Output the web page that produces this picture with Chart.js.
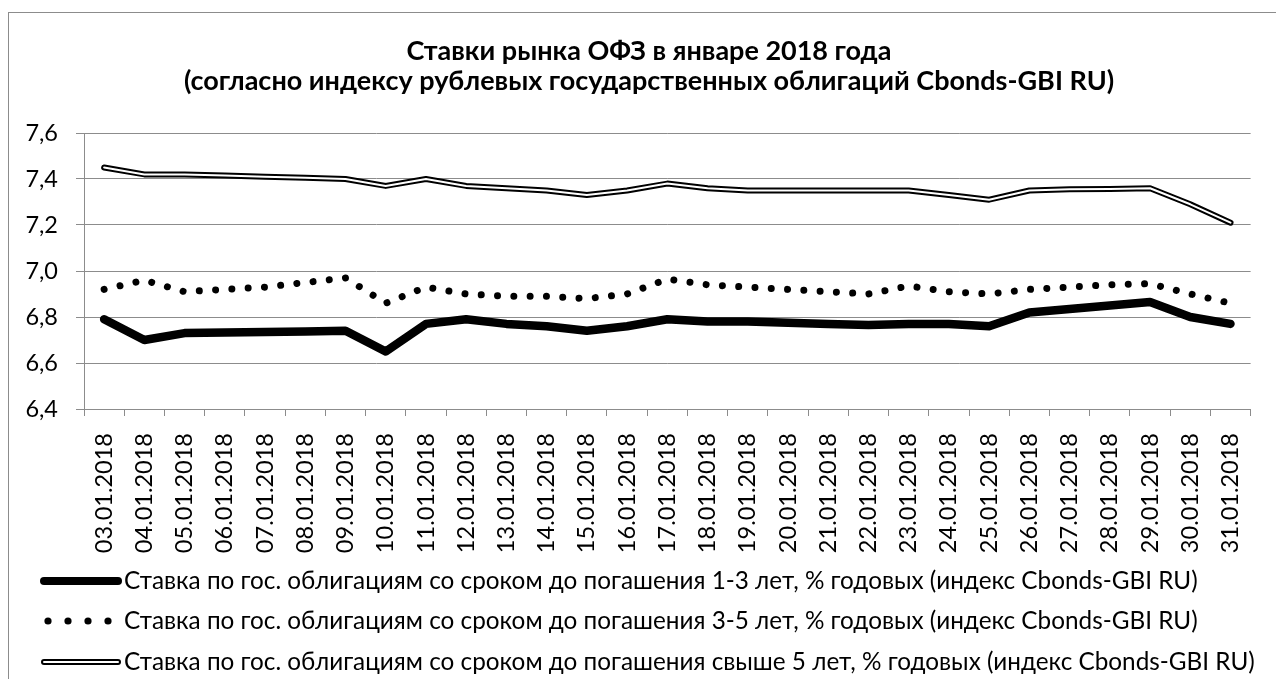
<!DOCTYPE html>
<html>
<head>
<meta charset="utf-8">
<script src="https://cdn.jsdelivr.net/npm/chart.js@4"></script>
<style>
  html, body { margin: 0; padding: 0; background: #fff; }
  #wrap { width: 1276px; height: 679px; position: relative; }
</style>
</head>
<body>
<div id="wrap"><canvas id="c" width="1276" height="679"></canvas></div>
<script>
const dates = ['03.01.2018','04.01.2018','05.01.2018','06.01.2018','07.01.2018','08.01.2018','09.01.2018','10.01.2018','11.01.2018','12.01.2018','13.01.2018','14.01.2018','15.01.2018','16.01.2018','17.01.2018','18.01.2018','19.01.2018','20.01.2018','21.01.2018','22.01.2018','23.01.2018','24.01.2018','25.01.2018','26.01.2018','27.01.2018','28.01.2018','29.01.2018','30.01.2018','31.01.2018'];
const rate1to3 = [6.79,6.70,6.73,6.733,6.735,6.737,6.74,6.65,6.77,6.79,6.77,6.76,6.74,6.76,6.79,6.78,6.78,6.775,6.77,6.765,6.77,6.77,6.76,6.82,6.835,6.85,6.865,6.80,6.77];
const rate3to5 = [6.92,6.96,6.91,6.92,6.93,6.95,6.97,6.86,6.93,6.90,6.89,6.89,6.88,6.90,6.965,6.94,6.93,6.92,6.91,6.90,6.935,6.91,6.90,6.92,6.93,6.94,6.945,6.90,6.86];
const rateOver5 = [7.45,7.42,7.42,7.415,7.41,7.405,7.40,7.37,7.40,7.37,7.36,7.35,7.33,7.35,7.38,7.36,7.35,7.35,7.35,7.35,7.35,7.33,7.31,7.35,7.355,7.357,7.36,7.29,7.21];
const seriesNames = [
  'Ставка по гос. облигациям со сроком до погашения 1-3 лет, % годовых (индекс Cbonds-GBI RU)',
  'Ставка по гос. облигациям со сроком до погашения 3-5 лет, % годовых (индекс Cbonds-GBI RU)',
  'Ставка по гос. облигациям со сроком до погашения свыше 5 лет, % годовых (индекс Cbonds-GBI RU)'
];
const titleLines = ['Ставки рынка ОФЗ в январе 2018 года', '(согласно индексу рублевых государственных облигаций Cbonds-GBI RU)'];
const yMin = 6.4, yMax = 7.6, yStep = 0.2;

const FONT = 'Lato, "Open Sans", sans-serif';
const GRID = '#8c8c8c';

const frame = {
  id: 'frame',
  afterLayout(chart) {
    if (chart.titleBlock) { chart.titleBlock.left = 39; chart.titleBlock.right = 1259; }
  },
  beforeDraw(chart) {
    const ctx = chart.ctx;
    ctx.save();
    ctx.fillStyle = '#fff';
    ctx.fillRect(0, 0, chart.width, chart.height);
    ctx.strokeStyle = '#8c8c8c';
    ctx.lineWidth = 1;
    ctx.strokeRect(8.5, 12.5, 1400, 800);
    ctx.restore();
  }
};

const customLegend = {
  id: 'customLegend',
  afterDraw(chart) {
    const ctx = chart.ctx;
    const rows = [581, 621, 662];
    const x0 = 44, x1 = 118, tx = 124;
    ctx.save();
    rows.forEach((y, i) => {
      ctx.lineCap = 'round';
      if (i === 0) {
        ctx.strokeStyle = '#000'; ctx.lineWidth = 8;
        ctx.beginPath(); ctx.moveTo(x0, y); ctx.lineTo(x1, y); ctx.stroke();
      } else if (i === 1) {
        ctx.fillStyle = '#000';
        [48, 68, 88, 108].forEach(cx => { ctx.beginPath(); ctx.arc(cx, y, 3.6, 0, Math.PI * 2); ctx.fill(); });
      } else {
        ctx.strokeStyle = '#000'; ctx.lineWidth = 6;
        ctx.beginPath(); ctx.moveTo(x0, y); ctx.lineTo(x1, y); ctx.stroke();
        ctx.strokeStyle = '#fff'; ctx.lineWidth = 2;
        ctx.beginPath(); ctx.moveTo(x0, y); ctx.lineTo(x1, y); ctx.stroke();
      }
      ctx.fillStyle = '#000';
      ctx.font = '24.3px ' + FONT;
      ctx.textBaseline = 'middle';
      ctx.textAlign = 'left';
      ctx.fillText(seriesNames[i], tx, y);
    });
    ctx.restore();
  }
};

new Chart(document.getElementById('c'), {
  type: 'line',
  data: {
    labels: dates,
    datasets: [
      { label: seriesNames[0], data: rate1to3, borderColor: '#000', borderWidth: 8.5, borderCapStyle: 'round', borderJoinStyle: 'round', pointRadius: 0, tension: 0, order: 3 },
      { label: seriesNames[1], data: rate3to5, borderColor: '#000', borderWidth: 7, borderCapStyle: 'round', borderDash: [0.01, 16.3], pointRadius: 0, tension: 0, order: 2 },
      { label: seriesNames[2], data: rateOver5, borderColor: '#000', borderWidth: 6, borderCapStyle: 'round', borderJoinStyle: 'round', pointRadius: 0, tension: 0, order: 1 },
      { label: '', data: rateOver5, borderColor: '#fff', borderWidth: 2, borderCapStyle: 'round', borderJoinStyle: 'round', pointRadius: 0, tension: 0, order: 0 }
    ]
  },
  options: {
    responsive: false,
    animation: false,
    events: [],
    layout: { padding: { left: 0, right: 17, top: 0, bottom: 120 } },
    plugins: {
      legend: { display: false },
      tooltip: { enabled: false },
      title: {
        display: true,
        text: titleLines,
        color: '#000',
        font: { family: FONT, size: 27, weight: 'bold', lineHeight: '30px' },
        padding: { top: 36, bottom: 37 }
      }
    },
    scales: {
      x: {
        type: 'category',
        offset: true,
        border: { display: true, color: GRID, width: 1 },
        grid: { offset: true, drawOnChartArea: false, drawTicks: true, tickLength: 7, color: GRID },
        ticks: { color: '#000', minRotation: 90, maxRotation: 90, autoSkip: false, padding: 17, font: { family: FONT, size: 23.5 } },
        afterFit(scale) { scale.height = 150; }
      },
      y: {
        min: yMin, max: yMax,
        border: { display: true, color: GRID, width: 1 },
        grid: { color: GRID, lineWidth: 1, tickLength: 8 },
        ticks: { stepSize: yStep, color: '#000', padding: 18, font: { family: FONT, size: 23.5 },
          callback: v => v.toFixed(1).replace('.', ',') },
        afterFit(scale) { scale.width = 84; }
      }
    }
  },
  plugins: [frame, customLegend]
});
</script>
</body>
</html>
